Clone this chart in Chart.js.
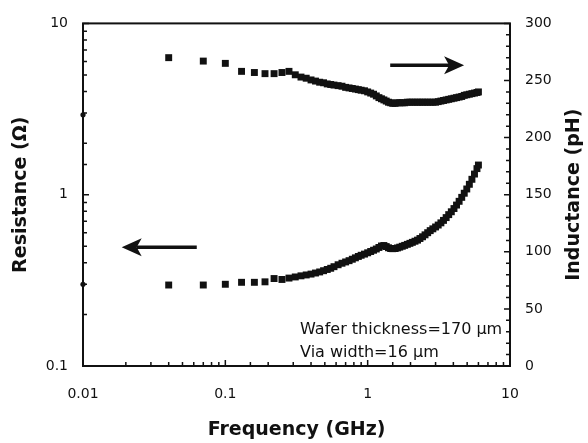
<!DOCTYPE html>
<html>
<head>
<meta charset="utf-8">
<title>Resistance and inductance vs frequency</title>
<script src="https://cdn.jsdelivr.net/npm/chart.js@4.4.1/dist/chart.umd.min.js"></script>
<style>
  html, body { margin: 0; padding: 0; background: #fff; }
  canvas { display: block; }
</style>
</head>
<body>
<canvas id="via-chart" width="588" height="443"></canvas>
<script>
// --- Data (frequency in GHz) ---
const frequency = [
    0.01, 0.04, 0.07, 0.10, 0.13, 0.16, 0.19, 0.22, 0.25, 0.28,
    0.31, 0.34, 0.37, 0.40, 0.43, 0.46, 0.49, 0.52, 0.55, 0.58,
    0.62, 0.66, 0.70, 0.74, 0.78, 0.82, 0.86, 0.90, 0.95, 1.00,
    1.05, 1.10, 1.15, 1.20, 1.25, 1.30, 1.35, 1.40, 1.45, 1.50,
    1.56, 1.62, 1.68, 1.75, 1.82, 1.90, 1.98, 2.06, 2.15, 2.24,
    2.33, 2.43, 2.53, 2.64, 2.75, 2.87, 3.00, 3.13, 3.27, 3.41,
    3.56, 3.71, 3.87, 4.04, 4.21, 4.39, 4.58, 4.77, 4.97, 5.18,
    5.40, 5.63, 5.86, 6.00
];

// Ohm, left axis
const resistance = [
    0.300, 0.297, 0.297, 0.300, 0.308, 0.308, 0.310, 0.324, 0.320, 0.326,
    0.331, 0.336, 0.340, 0.344, 0.349, 0.354, 0.360, 0.366, 0.372, 0.380,
    0.390, 0.398, 0.405, 0.412, 0.420, 0.428, 0.436, 0.443, 0.450, 0.458,
    0.466, 0.474, 0.482, 0.492, 0.502, 0.505, 0.498, 0.490, 0.485, 0.484,
    0.485, 0.489, 0.494, 0.500, 0.506, 0.513, 0.520, 0.527, 0.535, 0.543,
    0.555, 0.568, 0.583, 0.600, 0.617, 0.632, 0.648, 0.665, 0.685, 0.708,
    0.735, 0.765, 0.795, 0.830, 0.870, 0.915, 0.965, 1.020, 1.080, 1.150,
    1.230, 1.320, 1.420, 1.490
];

// pH, right axis
const inductance = [
    220, 270, 267, 265, 258, 257, 256, 256, 257, 258,
    255, 253, 252, 250.5, 249.5, 248.5, 248, 247, 246.5, 246,
    245.5, 245, 244, 243.5, 243, 242.5, 242, 241.5, 241, 240,
    239, 238, 236.5, 235, 234, 233, 232, 231, 230.5, 230,
    230, 230.5, 230.5, 230.5, 230.5, 231, 231, 231, 231, 231,
    231, 231, 231, 231, 231, 231, 231, 231.5, 232, 232.5,
    233, 233.5, 234, 234.5, 235, 235.5, 236, 237, 237.5, 238,
    238.5, 239, 239.5, 240
];

const xTickLabels = [0.01, 0.1, 1, 10];
const leftTickLabels = [0.1, 1, 10];
const rightTickLabels = [0, 50, 100, 150, 200, 250, 300];

// annotations (in data units)
const arrowToResistance = { axis: 'y', from: 0.063, to: 0.0187, level: 0.494 };
const arrowToInductance = { axis: 'y2', from: 1.44, to: 4.76, level: 263.4 };
const noteLines = ['Wafer thickness=170 µm', 'Via width=16 µm'];
const noteAnchor = { x: 0.335, levels: [28.4, 8.1] };

const ink = '#111';
Chart.defaults.font.family = "'DejaVu Sans', sans-serif";
Chart.defaults.color = ink;

const isListed = (list, v) => list.some(t => Math.abs(t - v) <= Math.abs(t) * 1e-6 + 1e-9);
const isDecade = v => Math.abs(Math.log10(v) - Math.round(Math.log10(v))) < 1e-6;

function drawArrow(ctx, x0, x1, y) {
    const dir = Math.sign(x1 - x0);
    const headLen = 20, headHalf = 9, notch = 5;
    ctx.lineWidth = 3.5;
    ctx.beginPath();
    ctx.moveTo(x0, y);
    ctx.lineTo(x1 - dir * (headLen - notch), y);
    ctx.stroke();
    ctx.beginPath();
    ctx.moveTo(x1, y);
    ctx.lineTo(x1 - dir * headLen, y - headHalf);
    ctx.lineTo(x1 - dir * (headLen - notch), y);
    ctx.lineTo(x1 - dir * headLen, y + headHalf);
    ctx.closePath();
    ctx.fill();
}

// frame + inward tick marks
const frameAndTicks = {
    id: 'frameAndTicks',
    beforeDatasetsDraw(chart) {
        const { ctx, chartArea: a, scales } = chart;
        ctx.save();
        ctx.strokeStyle = ink;
        ctx.lineWidth = 2;
        ctx.strokeRect(a.left, a.top, a.right - a.left, a.bottom - a.top);

        ctx.lineWidth = 1.5;
        ctx.beginPath();
        scales.x.ticks.forEach(t => {
            const px = scales.x.getPixelForValue(t.value);
            const len = isDecade(t.value) ? 6 : 4;
            ctx.moveTo(px, a.bottom);
            ctx.lineTo(px, a.bottom - len);
        });
        scales.y.ticks.forEach(t => {
            const py = scales.y.getPixelForValue(t.value);
            const len = isDecade(t.value) ? 6 : 4;
            ctx.moveTo(a.left, py);
            ctx.lineTo(a.left + len, py);
        });
        scales.y2.ticks.forEach(t => {
            const py = scales.y2.getPixelForValue(t.value);
            const len = t.value % 50 === 0 ? 6 : 4;
            ctx.moveTo(a.right, py);
            ctx.lineTo(a.right - len, py);
        });
        ctx.stroke();
        ctx.restore();
    },
    afterDraw(chart) {
        const { ctx, chartArea: a, scales } = chart;
        ctx.save();
        ctx.strokeStyle = ink;
        ctx.fillStyle = ink;

        [arrowToResistance, arrowToInductance].forEach(arr => {
            const y = scales[arr.axis].getPixelForValue(arr.level);
            drawArrow(ctx, scales.x.getPixelForValue(arr.from), scales.x.getPixelForValue(arr.to), y);
        });

        // note text
        ctx.font = "16px 'DejaVu Sans', sans-serif";
        ctx.textAlign = 'left';
        ctx.textBaseline = 'alphabetic';
        const nx = scales.x.getPixelForValue(noteAnchor.x);
        noteLines.forEach((line, i) => {
            ctx.fillText(line, nx, scales.y2.getPixelForValue(noteAnchor.levels[i]));
        });

        // right axis title, reading bottom to top like the left one
        ctx.font = "bold 19px 'DejaVu Sans', sans-serif";
        ctx.textAlign = 'center';
        ctx.textBaseline = 'middle';
        ctx.translate(574, (a.top + a.bottom) / 2);
        ctx.rotate(-Math.PI / 2);
        ctx.fillText('Inductance (pH)', 0, 0);
        ctx.restore();
    }
};

const squareSeries = (label, values, axis) => ({
    label,
    data: frequency.map((f, i) => ({ x: f, y: values[i] })),
    yAxisID: axis,
    showLine: false,
    backgroundColor: ink,
    borderColor: ink,
    borderWidth: 0,
    pointStyle: ctx => ctx.dataIndex === 0 ? 'circle' : 'rect',
    pointRadius: ctx => ctx.dataIndex === 0 ? 2.6 : 4.9,
    clip: false
});

new Chart(document.getElementById('via-chart'), {
    type: 'scatter',
    data: {
        datasets: [
            squareSeries('Resistance', resistance, 'y'),
            squareSeries('Inductance', inductance, 'y2')
        ]
    },
    options: {
        responsive: false,
        animation: false,
        events: [],
        layout: { padding: { top: 20, left: 0, right: 0, bottom: 0 } },
        plugins: {
            legend: { display: false },
            tooltip: { enabled: false }
        },
        scales: {
            x: {
                type: 'logarithmic',
                position: 'bottom',
                min: 0.01,
                max: 10,
                grid: { display: false, drawTicks: false },
                border: { display: false },
                ticks: {
                    autoSkip: false,
                    maxRotation: 0,
                    padding: 20,
                    font: { size: 14 },
                    callback: v => isListed(xTickLabels, v) ? String(v) : ''
                },
                title: {
                    display: true,
                    text: 'Frequency (GHz)',
                    font: { size: 19, weight: 'bold' },
                    padding: { top: 0, bottom: 2 }
                },
                afterFit: s => { s.height = 77; }
            },
            y: {
                type: 'logarithmic',
                position: 'left',
                min: 0.1,
                max: 10,
                grid: { display: false, drawTicks: false },
                border: { display: false },
                ticks: {
                    autoSkip: false,
                    padding: 15,
                    font: { size: 14 },
                    callback: v => isListed(leftTickLabels, v) ? String(v) : ''
                },
                title: {
                    display: true,
                    text: 'Resistance (Ω)',
                    font: { size: 19, weight: 'bold' },
                    padding: { top: 10, bottom: 0 }
                },
                afterFit: s => { s.width = 83; }
            },
            y2: {
                type: 'linear',
                position: 'right',
                min: 0,
                max: 300,
                grid: { display: false, drawTicks: false },
                border: { display: false },
                ticks: {
                    autoSkip: false,
                    stepSize: 10,
                    padding: 15,
                    font: { size: 14 },
                    callback: v => isListed(rightTickLabels, v) ? String(v) : ''
                },
                afterFit: s => { s.width = 78; }
            }
        }
    },
    plugins: [frameAndTicks]
});
</script>
</body>
</html>
